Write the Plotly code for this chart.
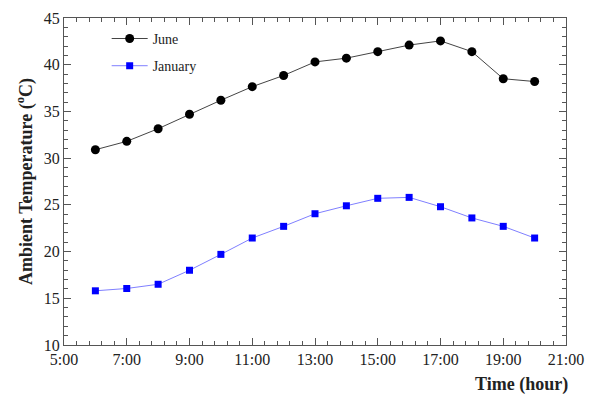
import plotly.graph_objects as go

hours = [6, 7, 8, 9, 10, 11, 12, 13, 14, 15, 16, 17, 18, 19, 20]
june = [30.9, 31.8, 33.15, 34.7, 36.2, 37.65, 38.85, 40.3, 40.7, 41.4, 42.1, 42.55, 41.4, 38.5, 38.2]
january = [15.8, 16.05, 16.5, 18.0, 19.7, 21.45, 22.7, 24.05, 24.9, 25.7, 25.8, 24.8, 23.6, 22.7, 21.45]

x_tickvals = [5, 7, 9, 11, 13, 15, 17, 19, 21]
x_ticktext = ["5:00", "7:00", "9:00", "11:00", "13:00", "15:00", "17:00", "19:00", "21:00"]
y_tickvals = [10, 15, 20, 25, 30, 35, 40, 45]

font = "Liberation Serif"

fig = go.Figure()
fig.add_trace(go.Scatter(
    x=hours, y=june, name="June", mode="lines+markers",
    line=dict(color="#444444", width=1),
    marker=dict(symbol="circle", size=9, color="black"),
    legendgroup="a",
))
fig.add_trace(go.Scatter(
    x=hours, y=january, name="January", mode="lines+markers",
    line=dict(color="#7f7fff", width=1),
    marker=dict(symbol="square", size=7, color="#0000ff"),
    legendgroup="b",
))

axis_common = dict(
    showline=True, linecolor="#555555", linewidth=1, mirror="ticks",
    ticks="inside", ticklen=7, tickcolor="#555555", showgrid=False, zeroline=False,
    tickfont=dict(family=font, size=16, color="#222222"),
    automargin=False,
)

fig.update_xaxes(
    range=[5, 21], tickvals=x_tickvals, ticktext=x_ticktext,
    minor=dict(dtick=0.4, tick0=5, ticks="inside", ticklen=4, tickcolor="#555555"),
    **axis_common,
)
fig.update_yaxes(
    range=[10, 45], tickvals=y_tickvals,
    minor=dict(dtick=1, tick0=10, ticks="inside", ticklen=4, tickcolor="#555555"),
    title=dict(text="<b>Ambient Temperature (<sup>o</sup>C)</b>",
               font=dict(family=font, size=18, color="#222222"), standoff=6),
    **axis_common,
)

fig.add_annotation(
    text="<b>Time (hour)</b>", xref="paper", yref="paper", x=0.912, y=-0.122,
    xanchor="center", yanchor="middle", showarrow=False,
    font=dict(family=font, size=18, color="#222222"),
)

fig.update_layout(
    width=590, height=394,
    margin=dict(l=64, r=24, t=18, b=49),
    paper_bgcolor="white", plot_bgcolor="white",
    showlegend=True,
    legend=dict(x=0.085, y=0.985, xanchor="left", yanchor="top",
                font=dict(family=font, size=14, color="#222222"),
                bgcolor="rgba(0,0,0,0)", itemwidth=36, tracegroupgap=6),
)

fig.write_html("out.html", config={"displayModeBar": False},
               post_script="document.body.style.margin='0';")
